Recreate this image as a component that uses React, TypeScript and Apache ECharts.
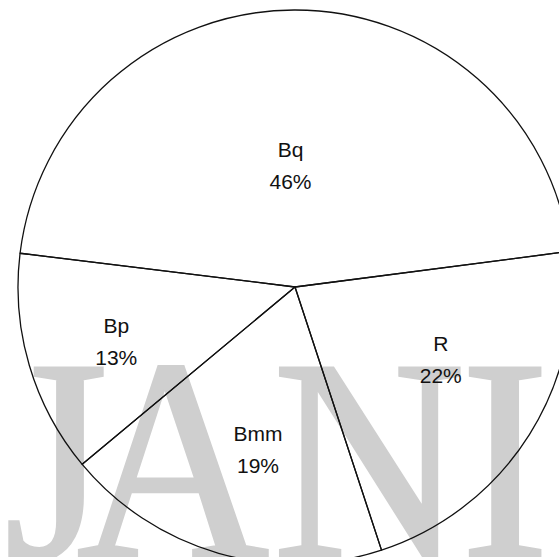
import React, { useEffect, useRef } from "react";
import * as echarts from "echarts";

// Data
const categories = ["Bq", "R", "Bmm", "Bp"];
const values = [46, 22, 19, 13];

// Label nudges (style only, pixels)
const labelOffsets = [
  [-4, 20],
  [26, -3],
  [2, 26],
  [-43, 15],
];

// Watermark letters and their centre x (decoration)
const watermarkLetters = ["J", "A", "N", "I"];
const watermarkX = [56, 173, 369, 505];

export default function App() {
  const ref = useRef<HTMLDivElement>(null);

  useEffect(() => {
    if (!ref.current) return;
    const chart = echarts.init(ref.current, null, { renderer: "svg" });
    const fontSize = 290;
    chart.setOption({
      animation: false,
      backgroundColor: "#ffffff",
      graphic: watermarkLetters.map((ch, i) => ({
        type: "text",
        z: -10,
        silent: true,
        x: watermarkX[i],
        y: 460,
        scaleX: 0.92,
        style: {
          text: ch,
          fill: "#cfcfcf",
          stroke: "#cfcfcf",
          lineWidth: 3,
          font: `${fontSize}px "Liberation Serif"`,
          align: "center",
          verticalAlign: "middle",
        },
      })),
      series: [
        {
          type: "pie",
          z: 5,
          center: [295, 287],
          radius: 277,
          startAngle: 173,
          clockwise: true,
          avoidLabelOverlap: false,
          emphasis: { disabled: true },
          itemStyle: {
            color: "rgba(0,0,0,0)",
            borderColor: "#111",
            borderWidth: 1.3,
          },
          labelLine: { show: false },
          label: {
            show: true,
            position: "inside",
            color: "#111",
            fontFamily: "Liberation Sans",
            fontSize: 21,
            lineHeight: 32,
            formatter: (p: any) => `${p.name}\n${Math.round(p.percent)}%`,
          },
          data: categories.map((name, i) => ({
            name,
            value: values[i],
            label: { offset: labelOffsets[i] },
          })),
        },
      ],
    });
    return () => chart.dispose();
  }, []);

  return (
    <div
      ref={ref}
      style={{ position: "fixed", left: 0, top: 0, width: 559, height: 557, background: "#fff" }}
    />
  );
}
